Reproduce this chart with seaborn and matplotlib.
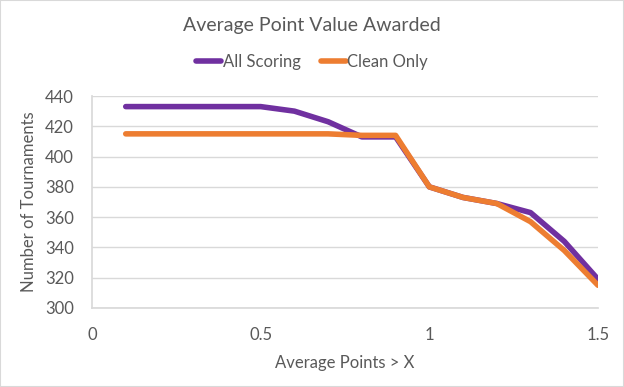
import numpy as np
import pandas as pd
import seaborn as sb
import matplotlib.pyplot as plt

### Data.
x_vals = [0.1, 0.2, 0.3, 0.4, 0.5, 0.6, 0.7, 0.8, 0.9, 1.0, 1.1, 1.2, 1.3, 1.4, 1.5]
all_scoring = [433, 433, 433, 433, 433, 430, 423, 413, 413, 380, 373, 369, 363, 344, 319]
clean_only = [415, 415, 415, 415, 415, 415, 415, 414, 414, 380, 373, 369, 357, 338, 315]
series_names = ['All Scoring', 'Clean Only']
series_colors = ['#7030A0', '#ED7D31']

df = pd.DataFrame({'x': x_vals * 2,
                   'tournaments': all_scoring + clean_only,
                   'series': [series_names[0]] * len(x_vals) + [series_names[1]] * len(x_vals)})

### Style.
sb.set_theme(style='white')
plt.rcParams['font.family'] = ['Lato', 'DejaVu Sans']
grey = '#595959'

fig = plt.figure(figsize=(6.24, 3.87), dpi=100)
ax = fig.add_axes([92 / 624, 1 - 308 / 387, 506 / 624, 212 / 387])

sb.lineplot(data=df, x='x', y='tournaments', hue='series', palette=series_colors,
            linewidth=4, ax=ax, legend=False, solid_capstyle='round')

ax.set_xlim(0, 1.5)
ax.set_ylim(300, 440)
ax.set_xticks([0, 0.5, 1, 1.5])
ax.set_xticklabels(['0', '0.5', '1', '1.5'])
ax.set_yticks(range(300, 441, 20))
ax.yaxis.grid(True, color='#d9d9d9', linewidth=1)
ax.set_axisbelow(True)
for side in ['top', 'right']:
    ax.spines[side].set_visible(False)
ax.spines['left'].set_color('#d9d9d9')
ax.spines['bottom'].set_color('#d9d9d9')
ax.tick_params(axis='both', colors=grey, labelsize=12, length=0)
ax.tick_params(axis='x', pad=14)
ax.tick_params(axis='y', pad=13)

ax.set_xlabel('Average Points > X', color=grey, fontsize=12, labelpad=8)
ax.set_ylabel('Number of Tournaments', color=grey, fontsize=12, labelpad=6)

fig.text(0.5, 1 - 25 / 387, 'Average Point Value Awarded', ha='center', va='center',
         color=grey, fontsize=14)

handles = [plt.Line2D([], [], color=c, linewidth=4, solid_capstyle='round') for c in series_colors]
fig.legend(handles, series_names, loc='center', bbox_to_anchor=(0.5, 1 - 62 / 387), ncol=2,
           frameon=False, fontsize=12, labelcolor=grey, handlelength=1.5,
           handletextpad=0.1, columnspacing=1.2)

### Light border around the picture.
fig.patches.append(plt.Rectangle((0, 0), 1, 1, transform=fig.transFigure, fill=False,
                                 edgecolor='#d9d9d9', linewidth=1.5))

plt.savefig('out.png', dpi=100)
